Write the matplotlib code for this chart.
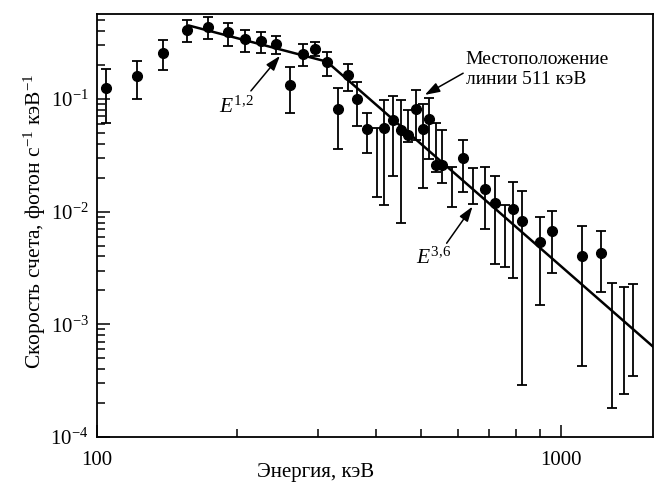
import matplotlib
matplotlib.use("Agg")
import matplotlib.pyplot as plt
from matplotlib.ticker import NullFormatter

# ===== DATA =====
energy = [104.4, 121.8, 139.0, 156.1, 173.3, 191.3, 208.4, 225.6, 243.1, 260.6,
          277.5, 295.1, 313.2, 330.3, 347.0, 363.9, 381.8, 416.0, 434.5, 452.7,
          468.7, 486.3, 503.5, 520.2, 537.0, 554.8, 615.0, 685.8, 722.0, 789.3,
          824.0, 901.0, 955.0, 1111.0, 1223.0]
rate = [0.124, 0.159, 0.256, 0.412, 0.433, 0.391, 0.339, 0.325, 0.306, 0.134,
        0.251, 0.276, 0.213, 0.0815, 0.163, 0.0994, 0.0542, 0.055, 0.0647, 0.0534,
        0.0476, 0.0815, 0.0538, 0.066, 0.026, 0.026, 0.030, 0.0158, 0.0120, 0.0105,
        0.0083, 0.0054, 0.0067, 0.0040, 0.0043]
rate_hi = [0.185, 0.219, 0.336, 0.499, 0.531, 0.470, 0.412, 0.395, 0.364, 0.192,
           0.306, 0.321, 0.259, 0.126, 0.206, 0.142, 0.075, 0.097, 0.107, 0.097,
           0.080, 0.120, 0.091, 0.101, 0.061, 0.053, 0.043, 0.025, 0.0205, 0.0182,
           0.0151, 0.0090, 0.0101, 0.0075, 0.0067]
rate_lo = [0.061, 0.100, 0.180, 0.321, 0.339, 0.297, 0.261, 0.254, 0.252, 0.0746,
           0.196, 0.242, 0.160, 0.0362, 0.118, 0.0573, 0.0334, 0.0115, 0.0206, 0.0080,
           0.0418, 0.0433, 0.0161, 0.0293, 0.0225, 0.0181, 0.0150, 0.0070, 0.0034, 0.0026,
           0.00029, 0.00148, 0.00288, 0.00043, 0.00195]

# error bars drawn without a point
bar_energy = [400.6, 581.3, 647.8, 757.5, 1292.0, 1365.0, 1432.0]
bar_hi = [0.0553, 0.0248, 0.0244, 0.0115, 0.00232, 0.00216, 0.00228]
bar_lo = [0.0135, 0.0110, 0.0117, 0.0032, 0.00018, 0.00024, 0.00035]

# broken power law (vertices)
fit_energy = [158.0, 313.0, 1580.0]
fit_rate = [0.447, 0.214, 0.000634]

xtick_vals = [100, 1000]
xtick_labels = ["100", "1000"]

# ===== STYLE =====
plt.rcParams["font.family"] = ["Liberation Serif", "DejaVu Serif"]
plt.rcParams["mathtext.fontset"] = "custom"
plt.rcParams["mathtext.rm"] = "Liberation Serif"
plt.rcParams["mathtext.it"] = "Liberation Serif:italic"
plt.rcParams["font.size"] = 15

fig = plt.figure(figsize=(6.58, 4.83), dpi=100)
ax = fig.add_axes([0.1474, 0.0952, 0.845, 0.875])

# ===== DRAW =====
ax.errorbar(
    energy, rate,
    yerr=[[r - lo for r, lo in zip(rate, rate_lo)],
          [hi - r for r, hi in zip(rate, rate_hi)]],
    fmt="o", color="black", markersize=7,
    elinewidth=1.3, capsize=3.5, capthick=1.3
)
ax.errorbar(
    bar_energy, bar_hi,
    yerr=[[hi - lo for hi, lo in zip(bar_hi, bar_lo)], [0] * len(bar_hi)],
    fmt="none", ecolor="black",
    elinewidth=1.3, capsize=3.5, capthick=1.3
)
ax.plot(fit_energy, fit_rate, color="black", lw=1.8)

ax.set_xscale("log")
ax.set_yscale("log")
ax.set_xlim(100, 1580)
ax.set_ylim(1e-4, 0.562)

ax.set_xticks(xtick_vals)
ax.set_xticklabels(xtick_labels)
ax.xaxis.set_minor_formatter(NullFormatter())
ax.tick_params(which="both", direction="in", top=False, right=False, width=1.1)
ax.tick_params(which="major", length=9)
ax.tick_params(which="minor", length=6)
ax.tick_params(axis="x", pad=10)
ax.tick_params(axis="y", pad=6)
for s in ax.spines.values():
    s.set_linewidth(1.3)

ax.set_xlabel("Энергия, кэВ")
ax.xaxis.set_label_coords(0.394, -0.062)
ax.set_ylabel(r"Скорость счета, фотон с$^{-1}$ кэВ$^{-1}$", fontsize=15.5)
ax.yaxis.set_label_coords(-0.088, 0.51)

# ===== ANNOTATIONS =====
arrow = dict(arrowstyle="-|>,head_length=0.6,head_width=0.2", color="black", lw=1.1,
             shrinkA=0, shrinkB=0)
ax.annotate("", xy=(248, 0.2407), xytext=(214.7, 0.1178), arrowprops=arrow)
ax.text(200, 0.085, r"$E^{1{,}2}$", ha="center", va="center", fontsize=15.5)

ax.annotate("", xy=(645, 0.01108), xytext=(567.3, 0.00524), arrowprops=arrow)
ax.text(532, 0.00388, r"$E^{3{,}6}$", ha="center", va="center", fontsize=15.5)

ax.annotate("", xy=(509, 0.1085), xytext=(615.7, 0.169), arrowprops=arrow)
ax.text(624, 0.183, "Местоположение\nлинии 511 кэВ", ha="left", va="center",
        fontsize=14, linespacing=1.25)

fig.savefig("out.png", dpi=100)
